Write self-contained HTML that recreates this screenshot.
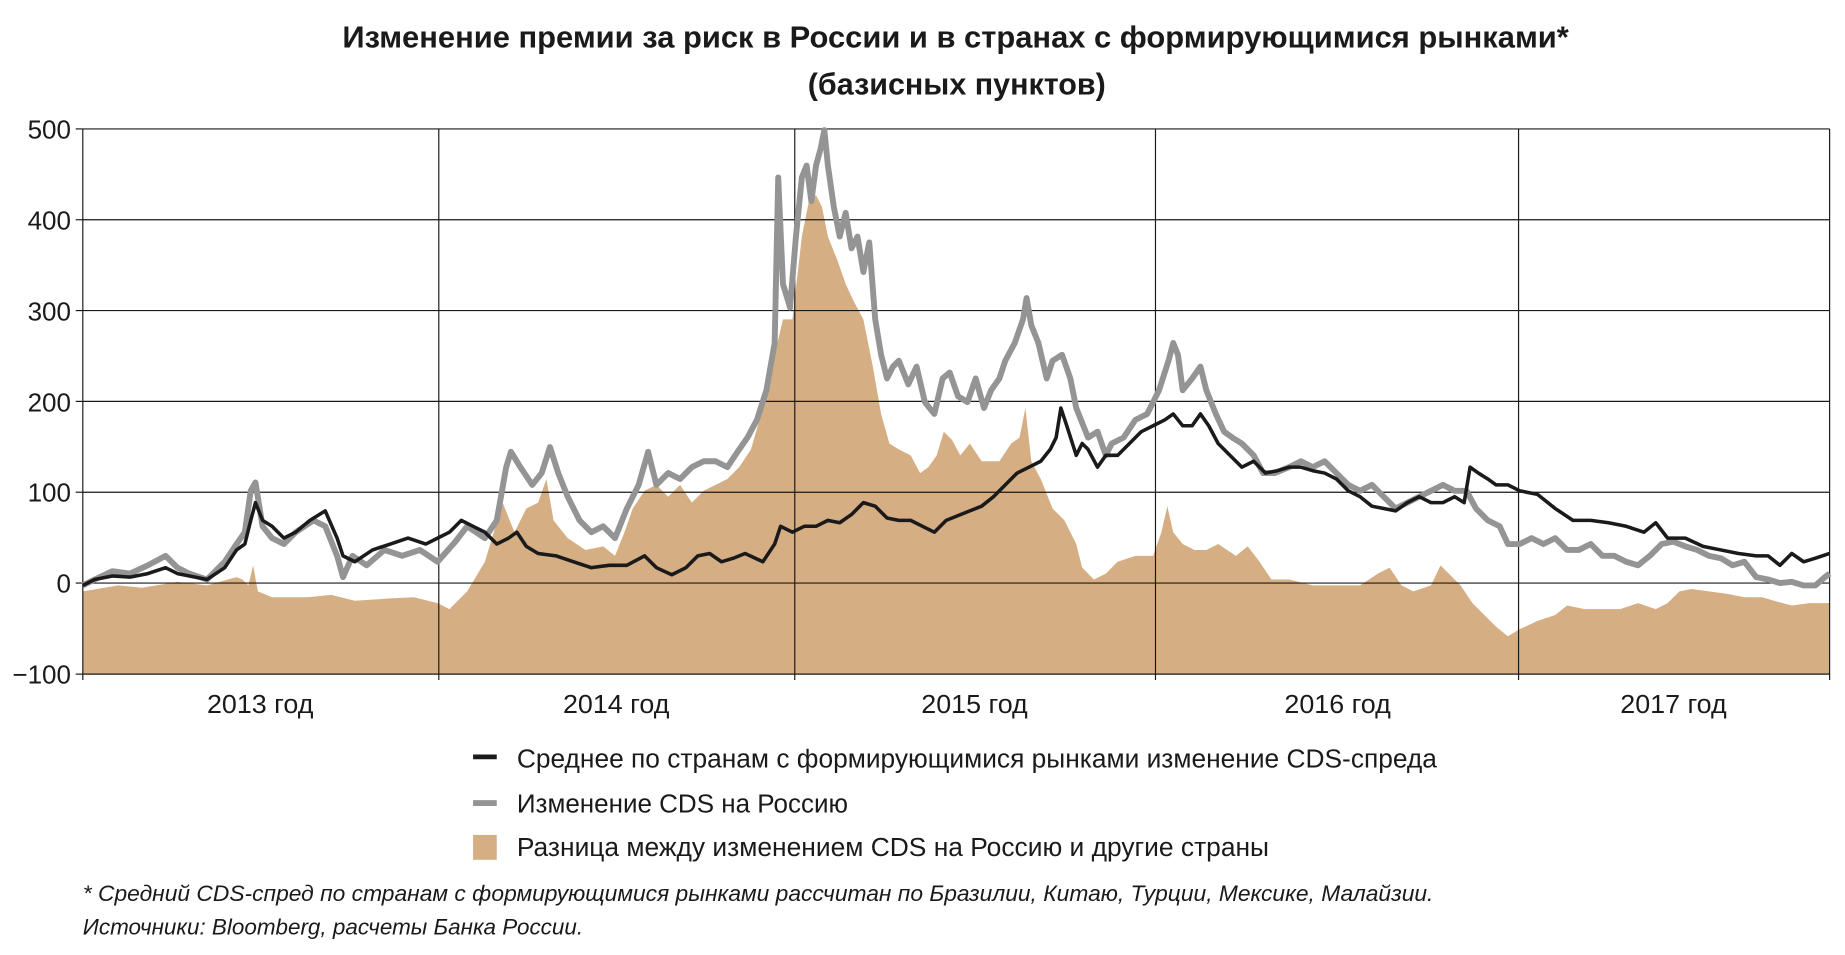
<!DOCTYPE html>
<html><head><meta charset="utf-8"><style>
html,body{margin:0;padding:0;background:#fff;width:1845px;height:955px;overflow:hidden}
svg{display:block}
text{font-family:"Liberation Sans","DejaVu Sans",sans-serif;fill:#1a1a1a}
</style></head><body>
<svg width="1845" height="955" viewBox="0 0 1560 807.5" xmlns="http://www.w3.org/2000/svg">
<text x="808" y="40" font-size="26" font-weight="bold" text-anchor="middle" textLength="1037" lengthAdjust="spacingAndGlyphs">Изменение премии за риск в России и в странах с формирующимися рынками*</text>
<text x="809" y="80" font-size="26" font-weight="bold" text-anchor="middle" textLength="252" lengthAdjust="spacingAndGlyphs">(базисных пунктов)</text>
<!-- tan area -->
<polygon fill="#d5ae83" points="70,570 70,500 100,495 120,497 150,492 175,495 200,488 205,490 210,495 214,478 218,500 230,505 260,505 280,503 300,508 330,506 350,505 370,510 380,515 395,500 410,475 425,425 435,450 445,430 455,425 462,405 468,440 480,455 495,465 510,462 520,470 528,450 535,430 545,415 555,410 565,420 575,410 585,425 595,415 605,410 615,405 625,395 635,380 645,345 655,300 662,270 670,270 678,200 684,170 690,165 695,175 700,200 708,220 715,240 722,255 730,270 738,310 745,350 752,375 760,380 770,385 778,400 785,395 792,385 798,365 805,372 812,385 820,375 830,390 845,390 855,375 862,370 867,345 872,390 880,405 890,430 900,440 910,460 915,480 925,490 935,485 945,475 960,470 975,470 982,450 987,428 992,450 1000,460 1010,465 1020,465 1030,460 1045,470 1055,462 1065,475 1075,490 1090,490 1110,495 1130,495 1150,495 1165,485 1175,480 1185,495 1195,500 1210,495 1218,478 1225,485 1235,495 1245,510 1255,520 1265,530 1275,538 1285,532 1300,525 1315,520 1325,512 1340,515 1355,515 1370,515 1385,510 1400,515 1410,510 1420,500 1430,498 1445,500 1460,502 1475,505 1490,505 1500,508 1515,512 1530,510 1547,510 1547,570"/>
<!-- grid -->
<g stroke="#1a1a1a" stroke-width="1" fill="none">
<line x1="70" y1="109" x2="1547" y2="109"/>
<line x1="70" y1="185.8" x2="1547" y2="185.8"/>
<line x1="70" y1="262.6" x2="1547" y2="262.6"/>
<line x1="70" y1="339.4" x2="1547" y2="339.4"/>
<line x1="70" y1="416.2" x2="1547" y2="416.2"/>
<line x1="70" y1="493" x2="1547" y2="493"/>
<line x1="70" y1="570" x2="1547" y2="570"/>
<line x1="371" y1="109" x2="371" y2="575"/>
<line x1="672" y1="109" x2="672" y2="575"/>
<line x1="977" y1="109" x2="977" y2="575"/>
<line x1="1284" y1="109" x2="1284" y2="575"/>
<line x1="1547" y1="109" x2="1547" y2="575"/>
<line x1="70" y1="109" x2="70" y2="575"/>
<line x1="64" y1="109" x2="70" y2="109"/><line x1="64" y1="185.8" x2="70" y2="185.8"/><line x1="64" y1="262.6" x2="70" y2="262.6"/><line x1="64" y1="339.4" x2="70" y2="339.4"/><line x1="64" y1="416.2" x2="70" y2="416.2"/><line x1="64" y1="493" x2="70" y2="493"/><line x1="64" y1="570" x2="70" y2="570"/>
</g>
<!-- gray line -->
<polyline fill="none" stroke="#949494" stroke-width="5" stroke-linejoin="round" points="70,495 80,490 95,483 110,485 125,478 140,470 150,480 160,485 175,490 190,475 200,460 207,450 212,415 216,408 222,445 230,455 240,460 250,450 265,440 275,445 285,470 290,488 298,470 310,478 325,465 340,470 355,465 370,475 385,458 395,445 410,455 420,440 428,395 432,382 440,395 450,410 458,400 465,378 472,400 480,420 490,440 500,450 510,445 520,455 530,430 540,410 548,382 555,410 565,400 575,405 585,395 595,390 605,390 615,395 625,380 632,370 640,355 648,330 655,290 658,150 662,240 668,260 673,200 678,150 682,140 686,170 690,140 694,125 697,110 700,140 705,175 710,200 715,180 720,210 725,200 730,230 735,205 740,270 745,300 750,320 755,310 760,305 768,325 775,310 782,340 790,350 797,320 803,315 810,335 818,340 825,320 832,345 838,330 845,320 850,305 858,290 865,270 868,252 872,275 878,290 885,320 890,305 898,300 905,320 910,345 920,370 928,365 935,385 940,375 950,370 960,355 970,350 980,330 988,305 992,290 996,300 1000,330 1008,320 1015,310 1020,330 1028,350 1035,365 1042,370 1050,375 1060,385 1068,400 1078,400 1090,395 1100,390 1110,395 1120,390 1130,400 1140,410 1150,415 1160,410 1170,420 1180,430 1190,425 1200,420 1210,415 1220,410 1230,415 1240,415 1248,430 1258,440 1268,445 1275,460 1285,460 1295,455 1305,460 1315,455 1325,465 1335,465 1345,460 1355,470 1365,470 1375,475 1385,478 1395,470 1405,460 1415,458 1425,462 1435,465 1445,470 1455,472 1465,478 1475,475 1485,488 1495,490 1505,493 1515,492 1525,495 1535,495 1543,488 1547,485"/>
<!-- black line -->
<polyline fill="none" stroke="#1a1a1a" stroke-width="3" stroke-linejoin="round" points="70,495 80,490 95,487 110,488 125,485 140,480 150,485 165,488 175,490 190,480 200,465 207,460 212,440 216,425 222,440 230,445 240,455 250,450 262,440 275,432 285,455 290,470 300,475 315,465 330,460 345,455 360,460 370,455 380,450 390,440 400,445 410,450 420,460 430,455 437,450 445,462 455,468 470,470 485,475 500,480 515,478 530,478 545,470 555,480 568,486 580,480 590,470 600,468 610,475 620,472 630,468 645,475 655,460 660,445 670,450 680,445 690,445 700,440 710,442 720,435 730,425 740,428 750,438 760,440 770,440 780,445 790,450 800,440 810,436 820,432 830,428 840,420 850,410 860,400 870,395 880,390 888,380 893,370 897,345 902,360 910,385 915,375 920,380 928,395 935,385 945,385 955,375 965,365 975,360 985,355 992,350 1000,360 1008,360 1015,350 1022,360 1030,375 1040,385 1050,395 1060,390 1070,400 1080,398 1090,395 1100,395 1110,398 1120,400 1130,405 1140,415 1150,420 1160,428 1170,430 1180,432 1190,425 1200,420 1210,425 1220,425 1230,420 1238,425 1243,395 1250,400 1258,405 1265,410 1275,410 1285,415 1300,418 1315,430 1330,440 1345,440 1360,442 1375,445 1390,450 1400,442 1410,455 1425,455 1440,462 1455,465 1470,468 1485,470 1495,470 1505,478 1515,468 1525,475 1535,472 1547,468"/>
<!-- y labels -->
<g font-size="22" text-anchor="end">
<text x="60" y="117">500</text><text x="60" y="194">400</text><text x="60" y="271">300</text><text x="60" y="348">200</text><text x="60" y="424">100</text><text x="60" y="501">0</text><text x="60" y="578">−100</text>
</g>
<g font-size="22" text-anchor="middle">
<text x="220" y="603" textLength="90" lengthAdjust="spacingAndGlyphs">2013 год</text>
<text x="521" y="603" textLength="90" lengthAdjust="spacingAndGlyphs">2014 год</text>
<text x="824" y="603" textLength="90" lengthAdjust="spacingAndGlyphs">2015 год</text>
<text x="1131" y="603" textLength="90" lengthAdjust="spacingAndGlyphs">2016 год</text>
<text x="1415" y="603" textLength="90" lengthAdjust="spacingAndGlyphs">2017 год</text>
</g>
<!-- legend -->
<line x1="400" y1="640" x2="420" y2="640" stroke="#1a1a1a" stroke-width="4"/>
<line x1="400" y1="679" x2="420" y2="679" stroke="#949494" stroke-width="5"/>
<rect x="400" y="706" width="20" height="21" fill="#d5ae83"/>
<g font-size="22">
<text x="437" y="649" textLength="778" lengthAdjust="spacingAndGlyphs">Среднее по странам с формирующимися рынками изменение CDS-спреда</text>
<text x="437" y="687" textLength="280" lengthAdjust="spacingAndGlyphs">Изменение CDS на Россию</text>
<text x="437" y="724" textLength="636" lengthAdjust="spacingAndGlyphs">Разница между изменением CDS на Россию и другие страны</text>
</g>
<g font-size="19" font-style="italic">
<text x="70" y="762" textLength="1142" lengthAdjust="spacingAndGlyphs">* Средний CDS-спред по странам с формирующимися рынками рассчитан по Бразилии, Китаю, Турции, Мексике, Малайзии.</text>
<text x="70" y="790" textLength="423" lengthAdjust="spacingAndGlyphs">Источники: Bloomberg, расчеты Банка России.</text>
</g>
</svg>
</body></html>
